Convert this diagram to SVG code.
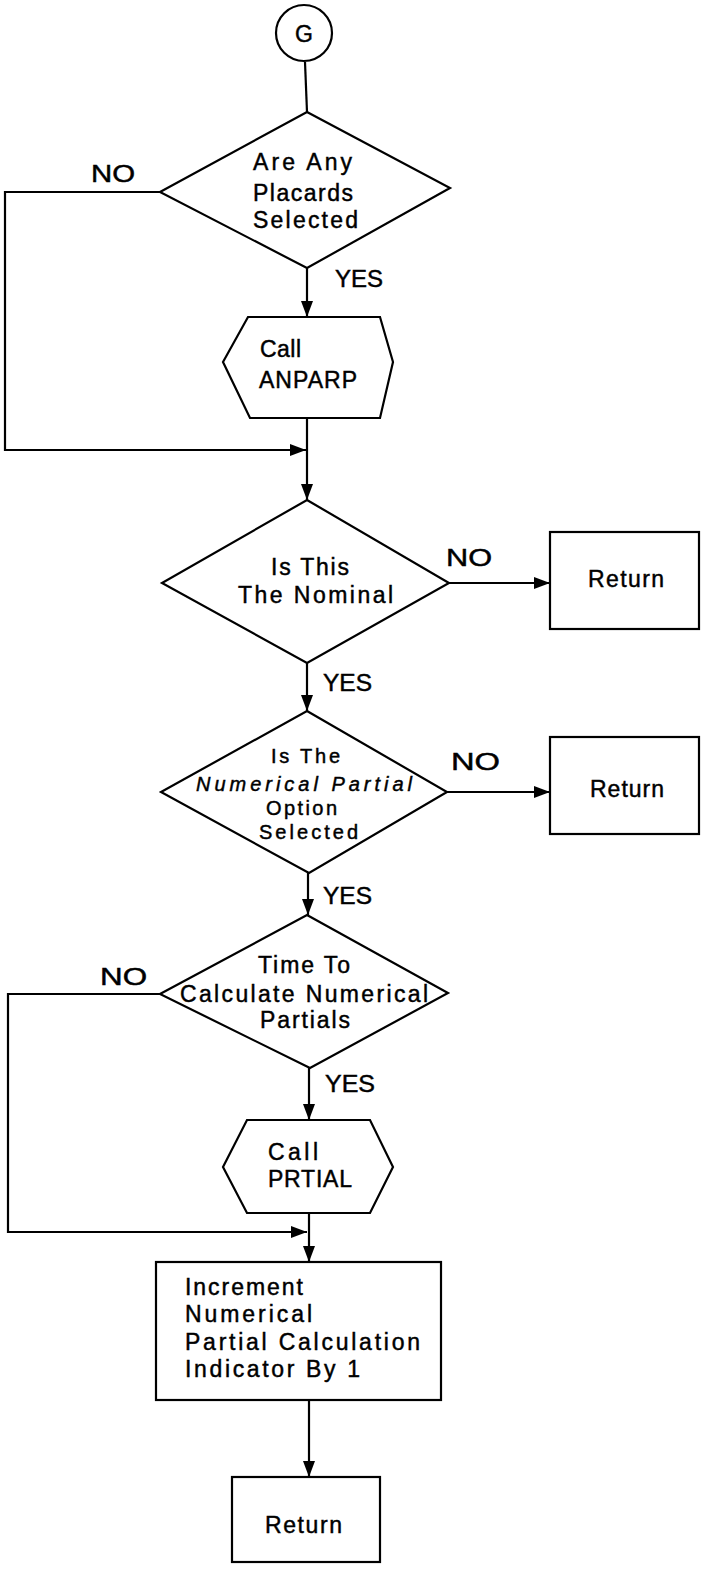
<svg xmlns="http://www.w3.org/2000/svg" width="702" height="1575" viewBox="0 0 702 1575">
<style>
.s{fill:#fff;stroke:#000;stroke-width:2.2}
.c{fill:none;stroke:#000;stroke-width:2.2}
text{font-family:"Liberation Sans",Arial,sans-serif;font-size:23px;fill:#000;stroke:#000;stroke-width:0.45}
.sm{font-size:20px}
</style>
<defs>
<marker id="a" viewBox="0 0 16 12" refX="16" refY="6" markerWidth="16" markerHeight="12" markerUnits="userSpaceOnUse" orient="auto">
<path d="M0,0 L16,6 L0,12 Z" fill="#000"/>
</marker>
</defs>
<rect width="702" height="1575" fill="#fff"/>
<g id="connectors">
<line class="c" x1="305" y1="62" x2="307" y2="112"/>
<line class="c" x1="307" y1="268" x2="307" y2="317" marker-end="url(#a)"/>
<polyline class="c" points="160,192 5,192 5,450 306,450" marker-end="url(#a)"/>
<line class="c" x1="307" y1="418" x2="307" y2="500" marker-end="url(#a)"/>
<line class="c" x1="449" y1="583" x2="550" y2="583" marker-end="url(#a)"/>
<line class="c" x1="307" y1="663" x2="307" y2="711" marker-end="url(#a)"/>
<line class="c" x1="447" y1="792" x2="550" y2="792" marker-end="url(#a)"/>
<line class="c" x1="308" y1="873" x2="308" y2="915" marker-end="url(#a)"/>
<line class="c" x1="309" y1="1068" x2="309" y2="1120" marker-end="url(#a)"/>
<polyline class="c" points="160,994 8,994 8,1232 307,1232" marker-end="url(#a)"/>
<line class="c" x1="309" y1="1213" x2="309" y2="1262" marker-end="url(#a)"/>
<line class="c" x1="309" y1="1400" x2="309" y2="1477" marker-end="url(#a)"/>
<text x="91" y="182" textLength="44" lengthAdjust="spacingAndGlyphs">NO</text>
<text x="335" y="287" textLength="48" lengthAdjust="spacingAndGlyphs">YES</text>
<text x="446" y="566" textLength="46" lengthAdjust="spacingAndGlyphs">NO</text>
<text x="323" y="691" textLength="49" lengthAdjust="spacingAndGlyphs">YES</text>
<text x="451" y="770" textLength="49" lengthAdjust="spacingAndGlyphs">NO</text>
<text x="323" y="904" textLength="49" lengthAdjust="spacingAndGlyphs">YES</text>
<text x="100" y="985" textLength="47" lengthAdjust="spacingAndGlyphs">NO</text>
<text x="325" y="1092" textLength="50" lengthAdjust="spacingAndGlyphs">YES</text>
</g>
<g id="start">
<circle class="s" cx="304" cy="33" r="28"/>
<text x="304" y="42" text-anchor="middle" font-size="25">G</text>
</g>
<g id="d1">
<polygon class="s" points="307,112 450,188 307,268 160,192"/>
<text x="253" y="170" textLength="99" lengthAdjust="spacing">Are Any</text>
<text x="253" y="201" textLength="100" lengthAdjust="spacing">Placards</text>
<text x="253" y="228" textLength="105" lengthAdjust="spacing">Selected</text>
</g>
<g id="h1">
<polygon class="s" points="248,317 380,317 393,362 380,418 250,418 223,362"/>
<text x="260" y="357" textLength="41" lengthAdjust="spacing">Call</text>
<text x="259" y="388" textLength="98" lengthAdjust="spacing">ANPARP</text>
</g>
<g id="d2">
<polygon class="s" points="307,500 449,583 307,663 162,583"/>
<text x="271" y="575" textLength="78" lengthAdjust="spacing">Is This</text>
<text x="238" y="603" textLength="155" lengthAdjust="spacing">The Nominal</text>
</g>
<g id="r1">
<rect class="s" x="550" y="532" width="149" height="97"/>
<text x="588" y="587" textLength="76" lengthAdjust="spacing">Return</text>
</g>
<g id="d3">
<polygon class="s" points="307,711 447,792 309,873 161,792"/>
<text class="sm" x="271" y="763" textLength="69" lengthAdjust="spacing">Is The</text>
<text class="sm" x="196" y="791" textLength="216" lengthAdjust="spacing" font-style="italic">Numerical Partial</text>
<text class="sm" x="266" y="815" textLength="71" lengthAdjust="spacing">Option</text>
<text class="sm" x="259" y="839" textLength="99" lengthAdjust="spacing">Selected</text>
</g>
<g id="r2">
<rect class="s" x="550" y="737" width="149" height="97"/>
<text x="590" y="797" textLength="74" lengthAdjust="spacing">Return</text>
</g>
<g id="d4">
<polygon class="s" points="307,915 448,993 310,1068 160,994"/>
<text x="258" y="973" textLength="92" lengthAdjust="spacing">Time To</text>
<text x="180" y="1002" textLength="248" lengthAdjust="spacing">Calculate Numerical</text>
<text x="260" y="1028" textLength="90" lengthAdjust="spacing">Partials</text>
</g>
<g id="h2">
<polygon class="s" points="247,1120 370,1120 393,1167 370,1213 247,1213 223,1167"/>
<text x="268" y="1160" textLength="50" lengthAdjust="spacing">Call</text>
<text x="268" y="1187" textLength="84" lengthAdjust="spacing">PRTIAL</text>
</g>
<g id="box">
<rect class="s" x="156" y="1262" width="285" height="138"/>
<text x="185" y="1295" textLength="118" lengthAdjust="spacing">Increment</text>
<text x="185" y="1322" textLength="127" lengthAdjust="spacing">Numerical</text>
<text x="185" y="1350" textLength="235" lengthAdjust="spacing">Partial Calculation</text>
<text x="185" y="1377" textLength="175" lengthAdjust="spacing">Indicator By 1</text>
</g>
<g id="r3">
<rect class="s" x="232" y="1477" width="148" height="85"/>
<text x="265" y="1533" textLength="77" lengthAdjust="spacing">Return</text>
</g>
</svg>
